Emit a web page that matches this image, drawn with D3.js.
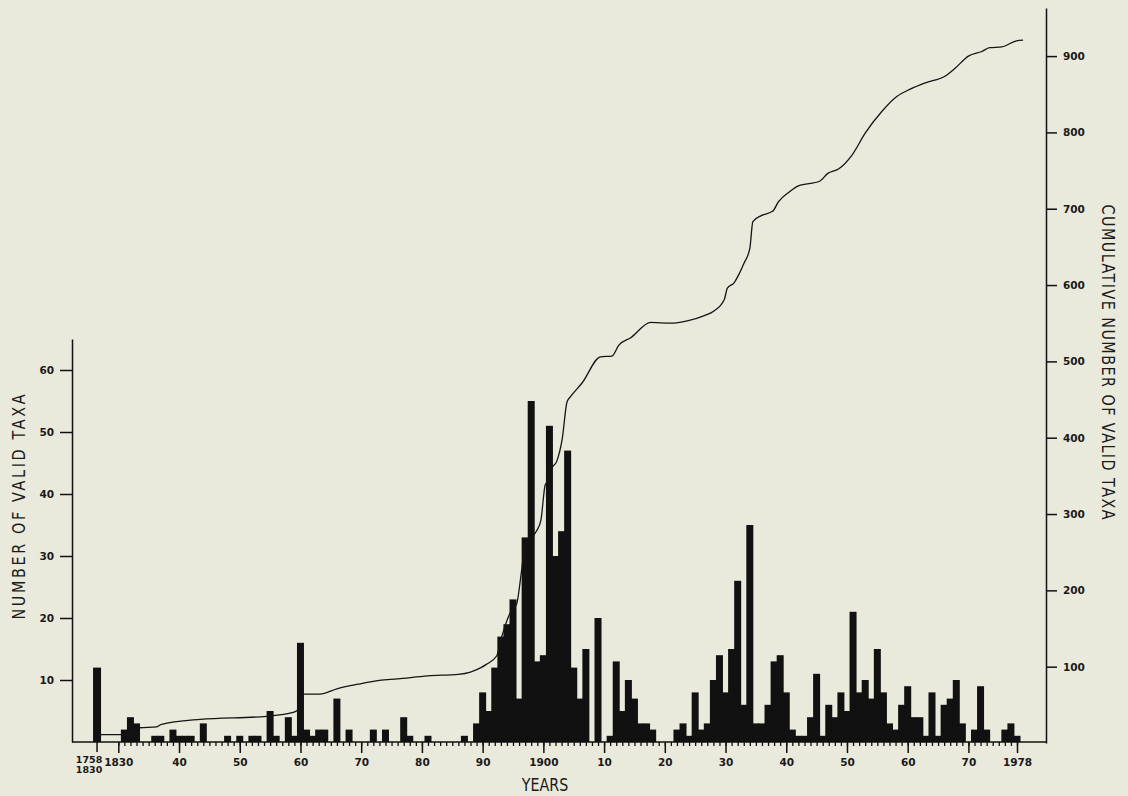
<!DOCTYPE html>
<html>
<head>
<meta charset="utf-8">
<script src="https://cdn.jsdelivr.net/npm/d3@7"></script>
<style>
  html, body { margin: 0; padding: 0; background: #e9e9dc; }
  svg { display: block; }
  .tick text { font-family: "DejaVu Sans", sans-serif; font-size: 10.5px; font-weight: bold; fill: #1a1a1a; }
  .title { font-family: "DejaVu Sans", sans-serif; fill: #1a1a1a; }
</style>
</head>
<body>
<script>
// Taxa described before 1830 (single grouped bar)
const preLabel = ["1758", "1830"];
const preCount = 12;

// Years with new valid taxa described, and how many
const barYears = [
  1831, 1832, 1833, 1836, 1837, 1839, 1840, 1841, 1842, 1844,
  1848, 1850, 1852, 1853, 1855, 1856, 1858, 1859, 1860, 1861,
  1862, 1863, 1864, 1866, 1868, 1872, 1874, 1877, 1878, 1881,
  1887, 1889, 1890, 1891, 1892, 1893, 1894, 1895, 1896, 1897,
  1898, 1899, 1900, 1901, 1902, 1903, 1904, 1905, 1906, 1907,
  1909, 1911, 1912, 1913, 1914, 1915, 1916, 1917, 1918, 1922,
  1923, 1924, 1925, 1926, 1927, 1928, 1929, 1930, 1931, 1932,
  1933, 1934, 1935, 1936, 1937, 1938, 1939, 1940, 1941, 1942,
  1943, 1944, 1945, 1946, 1947, 1948, 1949, 1950, 1951, 1952,
  1953, 1954, 1955, 1956, 1957, 1958, 1959, 1960, 1961, 1962,
  1963, 1964, 1965, 1966, 1967, 1968, 1969, 1971, 1972, 1973,
  1976, 1977, 1978
];
const barCounts = [
  2, 4, 3, 1, 1, 2, 1, 1, 1, 3,
  1, 1, 1, 1, 5, 1, 4, 1, 16, 2,
  1, 2, 2, 7, 2, 2, 2, 4, 1, 1,
  1, 3, 8, 5, 12, 17, 19, 23, 7, 33,
  55, 13, 14, 51, 30, 34, 47, 12, 7, 15,
  20, 1, 13, 5, 10, 7, 3, 3, 2, 2,
  3, 1, 8, 2, 3, 10, 14, 8, 15, 26,
  6, 35, 3, 3, 6, 13, 14, 8, 2, 1,
  1, 4, 11, 1, 6, 4, 8, 5, 21, 8,
  10, 7, 15, 8, 3, 2, 6, 9, 4, 4,
  1, 8, 1, 6, 7, 10, 3, 2, 9, 2,
  2, 3, 1
];

// Cumulative curve (right scale), sampled along its course
const cumYears = [
  1826.5, 1831, 1833.5, 1836.3, 1837, 1843.5, 1854.4, 1858.8, 1859.5, 1859.9,
  1860.5, 1863.2, 1866, 1869.5, 1873, 1876, 1881, 1886, 1888, 1889.8,
  1890.6, 1892.3, 1893.1, 1894.5, 1895.6, 1896.4, 1897, 1898.9, 1899.6, 1900.3,
  1900.9, 1901.4, 1902.2, 1903.1, 1903.9, 1904.5, 1906.4, 1909.4, 1911.3, 1912.4,
  1914.4, 1917.7, 1921, 1923.7, 1926.5, 1928.1, 1929.8, 1930.3, 1931.4, 1932.2,
  1933, 1934, 1934.5, 1935.9, 1937.8, 1938.7, 1940.5, 1942, 1945.5, 1946.8,
  1948.6, 1950.8, 1953, 1955.7, 1958.2, 1960.5, 1962.9, 1966.2, 1967.8, 1970,
  1972.2, 1973.5, 1975.5, 1977.9, 1979
];
const cumValues = [
  11, 11, 20, 21, 24, 31, 35, 40, 43, 46,
  64, 64, 71, 77, 82, 84, 88, 90, 93, 99,
  103, 114, 138, 170, 182, 225, 260, 278, 292, 338,
  345, 360, 369, 398, 447, 454, 472, 506, 507, 521,
  531, 551, 550, 553, 560, 566, 581, 596, 603, 614,
  628, 648, 683, 691, 697, 709, 722, 730, 736, 746,
  752, 770, 799, 827, 847, 857, 865, 874, 884, 900,
  906, 911, 912, 920, 921
];

const leftTicks = [10, 20, 30, 40, 50, 60];
const rightTicks = [100, 200, 300, 400, 500, 600, 700, 800, 900];
const majorYears = [1830, 1840, 1850, 1860, 1870, 1880, 1890, 1900, 1910, 1920, 1930, 1940, 1950, 1960, 1970, 1978];
const yearLabels = ["1830", "40", "50", "60", "70", "80", "90", "1900", "10", "20", "30", "40", "50", "60", "70", "1978"];

const W = 1128, H = 796;
const ink = "#111";

const svg = d3.select("body").append("svg")
  .attr("width", W).attr("height", H)
  .style("background", "#e9e9dc");

const x = d3.scaleLinear().domain([1830, 1978]).range([118.3, 1017]);
const yL = d3.scaleLinear().domain([0, 65]).range([742, 339]);
const yR = d3.scaleLinear().domain([0, 963]).range([743, 8]);
const leftX = 72, rightX = 1046;
const barW = 7;
const preX = x(1826.5);

// Bars
svg.append("g").attr("fill", ink)
  .selectAll("rect")
  .data(barYears.map((yr, i) => ({ yr, n: barCounts[i] })))
  .join("rect")
  .attr("x", d => x(d.yr) - barW / 2)
  .attr("width", barW)
  .attr("y", d => yL(d.n))
  .attr("height", d => yL(0) - yL(d.n));

svg.append("rect")
  .attr("fill", ink)
  .attr("x", preX - barW / 2 - 0.5).attr("width", barW + 1)
  .attr("y", yL(preCount)).attr("height", yL(0) - yL(preCount));

// Cumulative curve
const line = d3.line()
  .x((d, i) => i === 0 ? preX : x(d[0]))
  .y(d => yR(d[1]))
  .curve(d3.curveMonotoneX);
svg.append("path")
  .datum(cumYears.map((yr, i) => [yr, cumValues[i]]))
  .attr("fill", "none").attr("stroke", "#151515").attr("stroke-width", 1.3)
  .attr("d", line);

// Left axis
const gL = svg.append("g").attr("transform", `translate(${leftX},0)`)
  .call(d3.axisLeft(yL).tickValues(leftTicks).tickSize(12).tickSizeOuter(0).tickPadding(6));
// Right axis
const gR = svg.append("g").attr("transform", `translate(${rightX},0)`)
  .call(d3.axisRight(yR).tickValues(rightTicks).tickSize(11).tickSizeOuter(0).tickPadding(6));

// Year axis: one small tick per year, longer ticks at decades
const gXm = svg.append("g").attr("transform", "translate(0,742)")
  .call(d3.axisBottom(x).tickValues(d3.range(1830, 1979)).tickSize(4).tickFormat(""));
gXm.select(".domain").remove();
const gX = svg.append("g").attr("transform", "translate(0,742)")
  .call(d3.axisBottom(x).tickValues(majorYears).tickSize(11).tickPadding(6)
    .tickFormat((d, i) => yearLabels[i]));
gX.select(".domain").remove();

[gL, gR, gXm, gX].forEach(g => {
  g.selectAll("path.domain").attr("stroke", ink).attr("stroke-width", 1.5);
  g.selectAll(".tick line").attr("stroke", ink).attr("stroke-width", 1.5);
});
gXm.selectAll(".tick line").attr("stroke-width", 1.3);

// Baseline across the full width
svg.append("line")
  .attr("x1", leftX).attr("x2", rightX).attr("y1", 742).attr("y2", 742)
  .attr("stroke", ink).attr("stroke-width", 1.5);

// Tick and stacked label for the pre-1830 group
svg.append("line")
  .attr("x1", preX).attr("x2", preX).attr("y1", 742).attr("y2", 752)
  .attr("stroke", ink).attr("stroke-width", 1.5);
svg.append("g").selectAll("text").data(preLabel).join("text")
  .attr("x", preX - 8).attr("y", (d, i) => 763 + i * 9.5)
  .attr("text-anchor", "middle")
  .style("font-family", "DejaVu Sans, sans-serif").style("font-size", "9.5px")
  .style("font-weight", "bold")
  .attr("fill", "#1a1a1a")
  .text(d => d);

// Axis titles, lettered tall and narrow
svg.append("text").attr("class", "title")
  .attr("transform", "translate(545,791) scale(0.84,1)")
  .attr("text-anchor", "middle")
  .style("font-size", "17px")
  .text("YEARS");

svg.append("text").attr("class", "title")
  .attr("transform", "translate(24.5,507) rotate(-90) scale(0.82,1)")
  .attr("text-anchor", "middle")
  .attr("textLength", 225 / 0.82).attr("lengthAdjust", "spacing")
  .style("font-size", "17.5px")
  .text("NUMBER OF VALID TAXA");

svg.append("text").attr("class", "title")
  .attr("transform", "translate(1102,362) rotate(90) scale(0.82,1)")
  .attr("text-anchor", "middle")
  .attr("textLength", 315 / 0.82).attr("lengthAdjust", "spacing")
  .style("font-size", "17.5px")
  .text("CUMULATIVE NUMBER OF VALID TAXA");
</script>
</body>
</html>
